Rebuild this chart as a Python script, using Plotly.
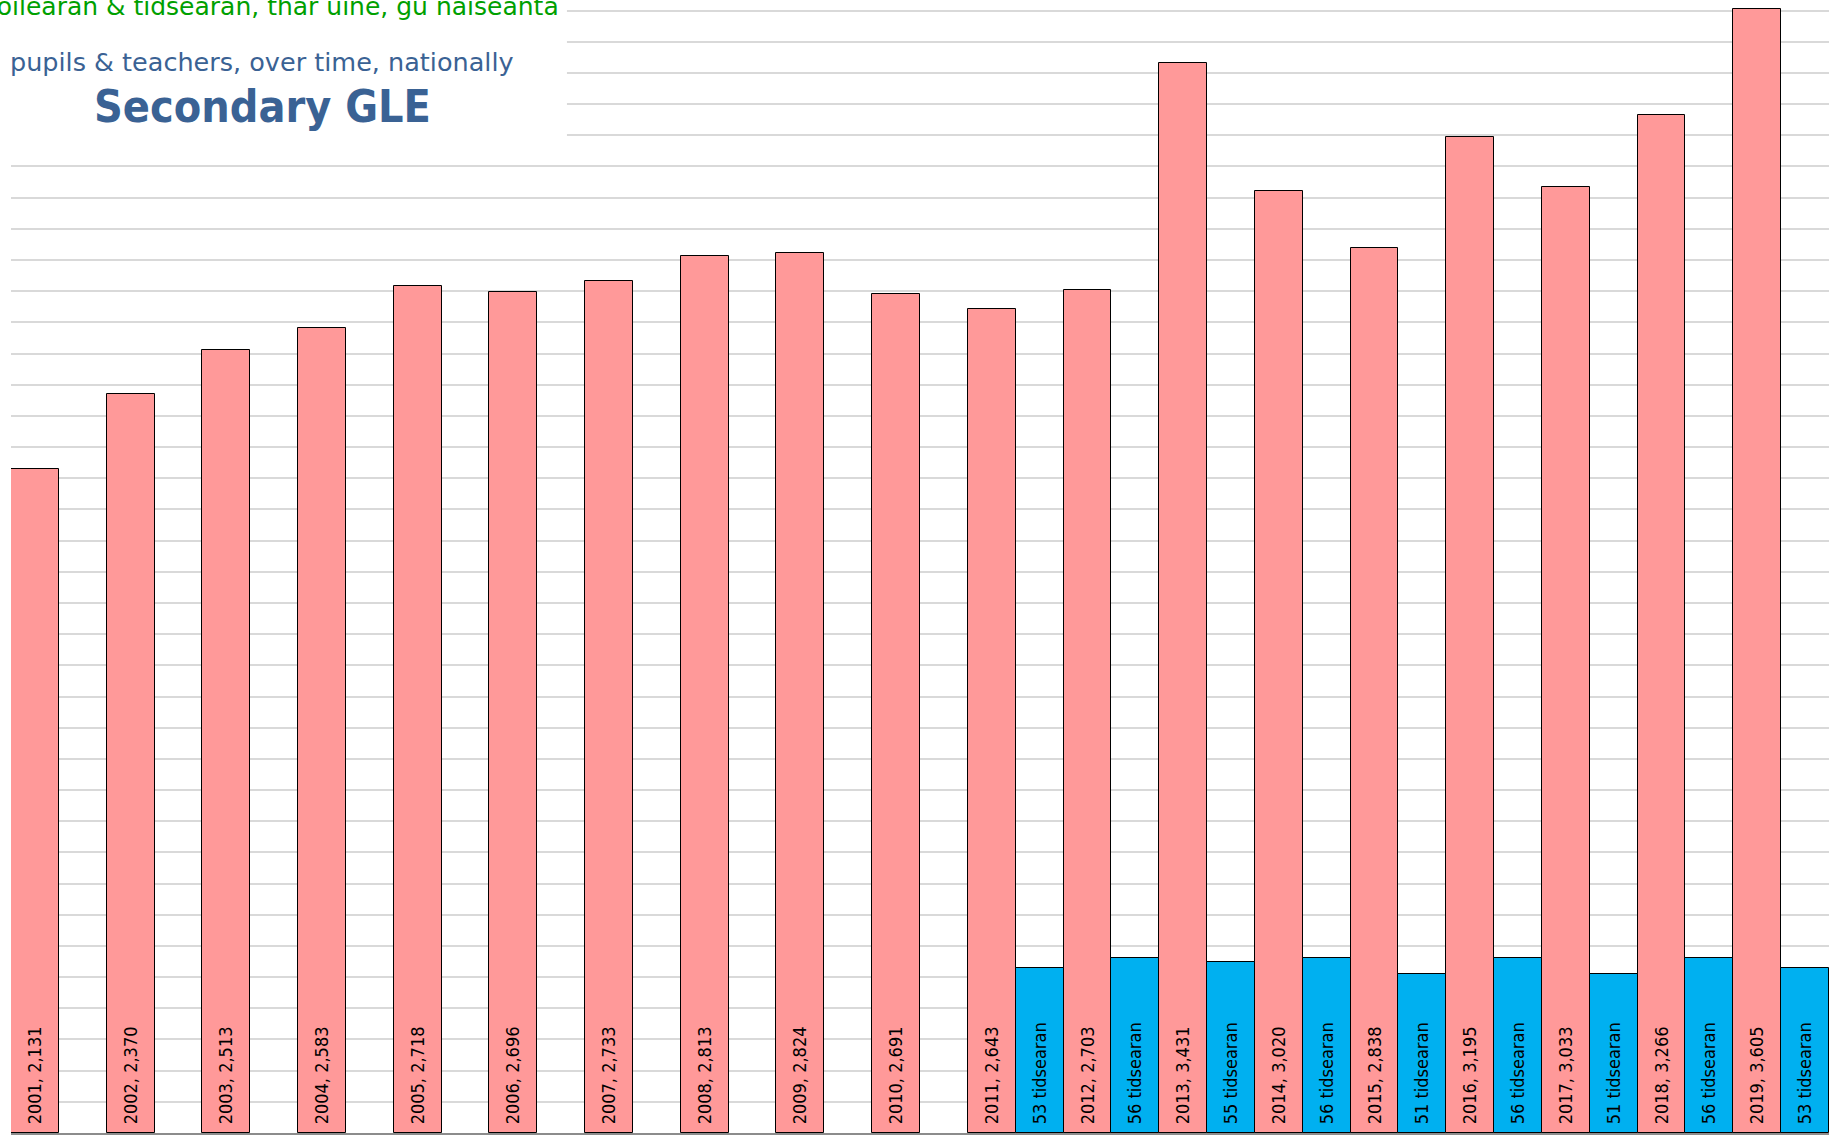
import plotly.graph_objects as go

years = [str(y) for y in range(2001, 2020)]
pupils = [2131, 2370, 2513, 2583, 2718, 2696, 2733, 2813, 2824, 2691,
          2643, 2703, 3431, 3020, 2838, 3195, 3033, 3266, 3605]
teacher_years = [str(y) for y in range(2011, 2020)]
teachers = [53, 56, 55, 56, 51, 56, 51, 56, 53]
teacher_scale = 10  # teachers drawn x10 so they show next to pupils

colors = {'pink': '#FF9999', 'blue': '#00B0F0', 'title': '#3A6294', 'green': '#00A000'}
label_font = dict(family='DejaVu Sans Condensed, DejaVu Sans', size=18, color='black')
nbsp = '\u00a0'

fig = go.Figure()
fig.add_trace(go.Bar(x=years, y=pupils,
                     marker=dict(color=colors['pink'], line=dict(color='black', width=1)),
                     text=[f"{nbsp}{y}, {v:,}" for y, v in zip(years, pupils)],
                     textposition='inside', insidetextanchor='start', textangle=-90,
                     insidetextfont=label_font, hoverinfo='skip'))
fig.add_trace(go.Bar(x=teacher_years, y=[t * teacher_scale for t in teachers],
                     marker=dict(color=colors['blue'], line=dict(color='black', width=1)),
                     text=[f"{nbsp}{t} tidsearan" for t in teachers],
                     textposition='inside', insidetextanchor='start', textangle=-90,
                     insidetextfont=label_font, hoverinfo='skip'))

# title block sits on a white box over the gridlines (bars never reach it)
fig.add_shape(type='rect', xref='paper', yref='paper', x0=-0.01, x1=0.3058, y0=0.868, y1=1.01,
              fillcolor='white', line=dict(width=0), layer='above')
cx = 0.1383
fig.add_annotation(text='Sgoilearan & tidsearan, thar ùine, gu nàiseanta', xref='paper', yref='paper',
                   x=cx, y=0.9947, xanchor='center', yanchor='middle', showarrow=False,
                   font=dict(family='DejaVu Sans', size=25, color=colors['green']))
fig.add_annotation(text='pupils & teachers, over time, nationally', xref='paper', yref='paper',
                   x=cx, y=0.9453, xanchor='center', yanchor='middle', showarrow=False,
                   font=dict(family='DejaVu Sans', size=25.5, color=colors['title']))
fig.add_annotation(text='<b>Secondary GLE</b>', xref='paper', yref='paper',
                   x=cx, y=0.9056, xanchor='center', yanchor='middle', showarrow=False,
                   font=dict(family='DejaVu Sans Condensed, DejaVu Sans', size=44.5, color=colors['title']))

fig.update_layout(barmode='group', bargap=0, bargroupgap=0, showlegend=False,
                  width=1831, height=1135, margin=dict(l=11, r=2, t=0, b=2),
                  plot_bgcolor='white', paper_bgcolor='white')
fig.update_xaxes(showticklabels=False, ticks='', showgrid=False,
                 showline=True, linecolor='#8C8C8C', linewidth=2)
fig.update_yaxes(range=[0, 3634], dtick=100, showticklabels=False, ticks='',
                 showgrid=True, gridcolor='#D9D9D9', gridwidth=1.5, zeroline=False)

# drop the page's default body margin so the figure sits at the window corner
fix_page = ("document.body.style.margin='0';document.body.style.overflow='hidden';"
            "Plotly.relayout(document.getElementById('{plot_id}'), {width: 1831, height: 1135});")
fig.write_html("out.html", post_script=fix_page, config={'displayModeBar': False})
